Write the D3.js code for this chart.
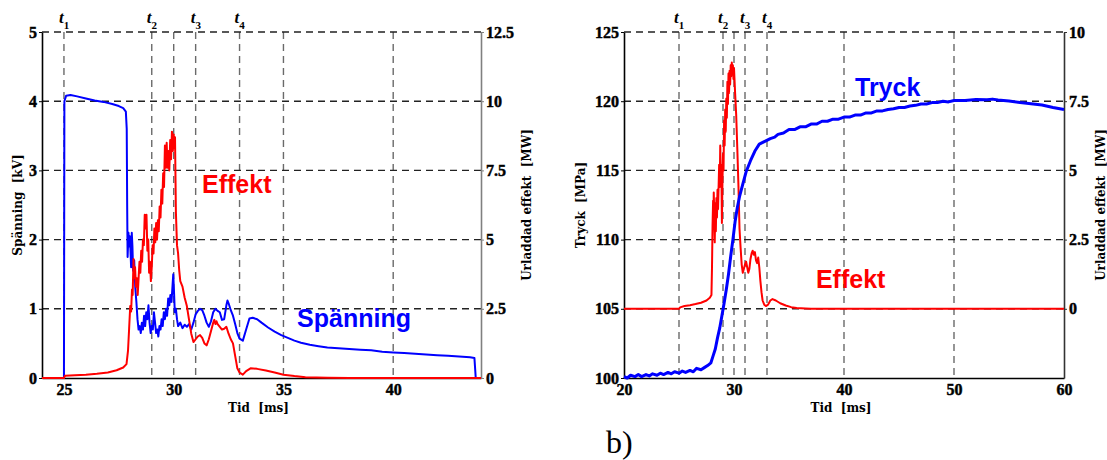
<!DOCTYPE html>
<html>
<head>
<meta charset="utf-8">
<script src="https://cdn.jsdelivr.net/npm/d3@7"></script>
<style>
body{margin:0;background:#fff;}
svg{display:block;}
.ttl{font-family:"DejaVu Serif",serif;font-weight:bold;font-size:12px;white-space:pre;fill:#000;}
.anno{font-family:"Liberation Sans",Arial,sans-serif;font-weight:bold;font-size:25px;}
.tmark{font-family:"Liberation Serif","Times New Roman",serif;font-weight:bold;font-style:italic;font-size:17px;}
</style>
</head>
<body>
<svg width="1107" height="460"></svg>
<script>
//ticks and grid
var tidTicksA = [25, 30, 35, 40];
var tidGridA = [25, 29, 30, 31, 33, 35, 40];
var kvTicks = [0, 1, 2, 3, 4, 5];
var mwTicksA = [0, 2.5, 5, 7.5, 10, 12.5];
var tidTicksB = [20, 30, 40, 50, 60];
var tidGridB = [25, 29, 30, 31, 33, 40, 50];
var mpaTicks = [100, 105, 110, 115, 120, 125];
var mwTicksB = [0, 2.5, 5, 7.5, 10];
var tHandelser = [25, 29, 31, 33];

//a) spanning [ms, kV]
var spanning = [[24,0],[25,0],[25.02,4.0],[25.1,4.08],[25.3,4.09],[25.6,4.07],[26,4.04],[26.4,4.01],[26.8,3.99],
  [27.2,3.96],[27.5,3.93],[27.7,3.9],[27.82,3.85],[27.86,3.6],[27.88,2.5],[27.9,1.75],[27.94,2.1],[27.97,1.9],
  [28,2.05],[28.03,1.85],[28.06,1.6],[28.09,2.1],[28.12,1.9],[28.15,1.55],[28.2,1.7],[28.25,1.3],[28.3,1.1],
  [28.35,0.85],[28.4,0.7],[28.45,0.75],[28.5,0.65],[28.55,0.8],[28.6,0.7],[28.65,0.9],[28.7,0.75],[28.75,0.95],
  [28.8,0.85],[28.85,1.05],[28.9,0.8],[28.95,0.65],[29,0.75],[29.05,0.7],[29.1,0.95],[29.15,0.8],[29.2,0.65],
  [29.25,0.7],[29.3,0.6],[29.35,0.75],[29.4,0.7],[29.45,0.85],[29.5,0.75],[29.55,0.95],[29.6,0.85],[29.65,1.0],
  [29.7,0.9],[29.75,1.15],[29.8,1.05],[29.85,1.2],[29.9,1.1],[29.95,1.35],[29.98,1.5],[30.02,1.2],[30.05,0.95],
  [30.1,1.0],[30.15,0.85],[30.2,0.75],[30.3,0.8],[30.4,0.72],[30.5,0.77],[30.6,0.74],[30.7,0.78],[30.8,0.7],
  [30.9,0.8],[31,0.92],[31.1,0.97],[31.2,1.0],[31.3,0.98],[31.4,0.9],[31.5,0.8],[31.6,0.74],[31.7,0.82],
  [31.8,0.95],[31.9,1.0],[32,0.97],[32.1,0.95],[32.2,0.84],[32.3,0.85],[32.4,1.05],[32.45,1.12],[32.5,1.08],
  [32.6,0.98],[32.7,0.9],[32.8,0.78],[32.9,0.65],[33,0.57],[33.15,0.54],[33.3,0.7],[33.45,0.86],[33.6,0.87],
  [33.8,0.85],[34,0.8],[34.3,0.73],[34.6,0.67],[34.9,0.62],[35.2,0.58],[35.5,0.54],[35.8,0.51],[36.2,0.48],
  [36.6,0.46],[37,0.44],[37.5,0.43],[38,0.42],[38.5,0.41],[39,0.4],[39.5,0.38],[40,0.37],[40.5,0.36],[41,0.35],
  [41.5,0.34],[42,0.33],[42.5,0.32],[43,0.31],[43.5,0.3],[43.7,0.29],[43.74,0.1],[43.76,0]];

//a) effekt [ms, MW]
var effektA = [[24,0],[25,0],[25.05,0.08],[25.5,0.1],[26,0.12],[26.5,0.15],[27,0.2],[27.4,0.28],[27.7,0.38],
  [27.85,0.5],[27.92,1.0],[27.97,1.8],[28.02,2.6],[28.06,2.4],[28.1,3.2],[28.13,3.0],[28.17,4.3],[28.2,3.6],
  [28.24,4.0],[28.28,3.3],[28.32,3.6],[28.36,3.0],[28.4,3.6],[28.44,4.2],[28.48,3.8],[28.52,4.6],[28.56,4.2],
  [28.6,5.0],[28.64,4.8],[28.68,5.9],[28.72,5.4],[28.76,5.9],[28.8,4.6],[28.84,5.0],[28.88,3.8],[28.92,4.2],
  [28.96,3.5],[29,4.0],[29.04,4.8],[29.08,4.5],[29.12,5.4],[29.16,4.9],[29.2,5.6],[29.24,5.0],[29.28,5.7],
  [29.32,5.3],[29.36,6.2],[29.4,5.8],[29.44,6.8],[29.48,6.3],[29.52,7.4],[29.56,6.9],[29.6,8.4],[29.64,7.6],
  [29.68,8.5],[29.72,7.6],[29.76,8.2],[29.8,7.5],[29.84,8.6],[29.88,7.9],[29.92,8.9],[29.96,8.2],[30,8.8],
  [30.04,8.3],[30.06,8.7],[30.1,6.0],[30.15,4.8],[30.2,4.5],[30.25,3.9],[30.3,3.5],[30.4,3.3],[30.5,2.9],
  [30.6,2.6],[30.7,2.1],[30.8,1.6],[30.9,1.3],[31,1.4],[31.1,1.5],[31.2,1.55],[31.3,1.45],[31.4,1.25],
  [31.5,1.18],[31.6,1.4],[31.7,1.7],[31.8,2.0],[31.85,2.1],[31.9,1.95],[31.95,2.05],[32,1.95],[32.1,1.85],
  [32.2,1.75],[32.3,1.78],[32.4,1.85],[32.5,1.6],[32.6,1.4],[32.7,1.25],[32.8,0.8],[32.9,0.35],[33,0.2],
  [33.15,0.12],[33.3,0.25],[33.5,0.35],[33.8,0.33],[34.2,0.27],[34.6,0.2],[35,0.12],[35.5,0.07],[36,0.03],
  [37,0.01],[38,0],[44,0]];

//b) tryck [ms, MPa]
var tryck = [[20,100.1],[20.3,100.0],[20.6,100.2],[21,100.1],[21.3,100.25],[21.6,100.1],[22,100.25],[22.3,100.15],
  [22.6,100.3],[23,100.2],[23.3,100.35],[23.6,100.25],[24,100.4],[24.3,100.3],[24.6,100.45],[25,100.35],
  [25.3,100.5],[25.6,100.4],[26,100.55],[26.3,100.45],[26.6,100.7],[27,100.6],[27.3,100.75],[27.6,100.9],
  [27.9,101.1],[28.1,101.6],[28.3,102.1],[28.5,102.9],[28.7,103.6],[28.9,104.5],[29.1,105.4],[29.3,106.4],
  [29.5,107.5],[29.7,108.8],[29.9,110.0],[30.1,111.3],[30.3,112.3],[30.5,113.1],[30.8,114.0],[31.1,114.9],
  [31.5,115.7],[31.9,116.4],[32.3,116.9],[32.8,117.1],[33.3,117.3],[33.7,117.4],[34,117.6],[34.5,117.7],
  [35,117.95],[35.5,117.95],[36,118.15],[36.5,118.15],[37,118.35],[37.5,118.35],[38,118.55],[38.5,118.55],
  [39,118.7],[39.5,118.7],[40,118.85],[40.5,118.85],[41,119.0],[41.5,119.0],[42,119.15],[42.5,119.15],
  [43,119.3],[43.5,119.3],[44,119.4],[44.5,119.45],[45,119.55],[45.5,119.55],[46,119.65],[46.5,119.7],
  [47,119.8],[47.5,119.8],[48,119.9],[48.5,119.9],[49,120.0],[49.5,119.95],[50,120.05],[51,120.05],
  [52,120.12],[53,120.1],[53.5,120.15],[54,120.08],[55,120.02],[56,119.9],[57,119.82],[58,119.72],
  [59,119.55],[60,119.4]];

//b) effekt [ms, MW]
var effektB = [[20,0],[25,0],[25.1,0.05],[25.5,0.1],[26,0.13],[26.5,0.17],[27,0.22],[27.5,0.3],[27.8,0.4],
  [27.95,0.5],[28,1.5],[28.05,3.0],[28.1,3.9],[28.13,3.2],[28.16,4.2],[28.2,3.5],[28.25,2.4],[28.3,3.8],
  [28.35,2.8],[28.4,4.0],[28.45,3.3],[28.5,4.3],[28.55,3.6],[28.6,4.4],[28.65,5.2],[28.7,4.4],[28.75,5.9],
  [28.8,4.6],[28.85,5.2],[28.9,3.1],[28.95,4.6],[29,5.6],[29.05,5.0],[29.1,6.8],[29.15,5.9],[29.2,7.2],
  [29.25,6.4],[29.3,7.6],[29.35,6.9],[29.4,8.2],[29.45,7.4],[29.5,8.5],[29.55,7.8],[29.6,8.6],[29.65,8.1],
  [29.7,8.8],[29.75,8.4],[29.8,8.9],[29.85,8.5],[29.9,8.8],[29.95,8.3],[30,8.7],[30.1,7.8],[30.2,7.0],
  [30.3,5.8],[30.4,4.5],[30.5,2.9],[30.6,2.2],[30.7,1.6],[30.8,1.3],[30.9,1.45],[31,1.6],[31.1,1.7],
  [31.2,1.5],[31.3,1.3],[31.4,1.45],[31.5,1.8],[31.6,2.0],[31.7,2.1],[31.8,1.95],[31.9,2.05],[32,1.75],
  [32.1,1.65],[32.2,1.85],[32.3,1.5],[32.4,1.0],[32.5,0.6],[32.6,0.3],[32.75,0.15],[32.9,0.1],[33.1,0.15],
  [33.3,0.3],[33.5,0.35],[33.8,0.3],[34.2,0.2],[34.7,0.12],[35.2,0.06],[35.7,0.03],[36.5,0.01],[37,0],[60,0]];

var svg = d3.select("svg");

var panel = function(o)
{
  var g = svg.append("g").attr("transform", "translate(" + o.left + "," + o.top + ")");
  //scales
  var x = d3.scaleLinear().domain(o.xDomain).range([0, o.width]);
  var y = d3.scaleLinear().domain(o.yDomain).range([o.height, 0]);
  var y2 = d3.scaleLinear().domain(o.y2Domain).range([o.height, 0]);

  //grid
  g.selectAll(".vgrid").data(o.xGrid).enter().append("line")
   .attr("x1", function(d){return x(d)}).attr("x2", function(d){return x(d)})
   .attr("y1", 0).attr("y2", o.height)
   .attr("stroke", "#6a6a6a").attr("stroke-width", 1.4).attr("stroke-dasharray", "7,5");
  g.selectAll(".hgrid").data(o.yTicks.filter(function(d){return d > o.yDomain[0]})).enter().append("line")
   .attr("x1", 0).attr("x2", o.width)
   .attr("y1", function(d){return y(d)}).attr("y2", function(d){return y(d)})
   .attr("stroke", "#222").attr("stroke-width", 1.4).attr("stroke-dasharray", "7,5");

  //axes
  var fmt = function(d){return String(d)};
  var xa = g.append("g").attr("transform", "translate(0," + o.height + ")")
   .call(d3.axisBottom(x).tickValues(o.xTicks).tickSize(0).tickSizeOuter(0).tickPadding(6).tickFormat(fmt));
  var ya = g.append("g")
   .call(d3.axisLeft(y).tickValues(o.yTicks).tickSize(3).tickSizeOuter(0).tickPadding(2).tickFormat(fmt));
  var y2a = g.append("g").attr("transform", "translate(" + o.width + ",0)")
   .call(d3.axisRight(y2).tickValues(o.y2Ticks).tickSize(3).tickSizeOuter(0).tickPadding(2).tickFormat(fmt));
  [xa, ya, y2a].forEach(function(a){
    a.attr("font-family", "'Liberation Serif','Times New Roman',serif").attr("font-size", 16)
     .selectAll("text").attr("font-weight", "bold").attr("fill", "#000")
     .attr("stroke", "#000").attr("stroke-width", 0.45);
  });
  xa.select(".domain").attr("stroke", "#000").attr("stroke-width", 1.6);
  ya.select(".domain").attr("stroke", "#000").attr("stroke-width", 1.6);
  y2a.select(".domain").attr("stroke", o.rightColor).attr("stroke-width", 1.6);
  y2a.selectAll(".tick line").attr("stroke", o.rightColor);

  //axis titles
  g.append("text").attr("class", "ttl").attr("text-anchor", "middle")
   .attr("x", o.width / 2 + o.xTitleShift).attr("y", o.height + 34).text("Tid  [ms]");
  g.append("text").attr("class", "ttl").attr("text-anchor", "middle")
   .attr("transform", "translate(" + o.yTitleX + "," + (o.height / 2) + ")rotate(-90)").text(o.yTitle);
  g.append("text").attr("class", "ttl").attr("text-anchor", "middle")
   .attr("transform", "translate(" + (o.width + o.y2TitleX) + "," + (o.height / 2) + ")rotate(-90)").text("Urladdad effekt  [MW]");

  //t markers
  var tm = g.selectAll(".tm").data(tHandelser).enter().append("text").attr("class", "tmark")
   .attr("x", function(d){return x(d) - 5}).attr("y", -9);
  tm.append("tspan").text("t");
  tm.append("tspan").attr("dy", 6).style("font-size", "11px").style("font-style", "normal")
    .text(function(d, i){return i + 1});

  //lines
  var lineL = d3.line().x(function(d){return x(d[0])}).y(function(d){return y(d[1])});
  var lineR = d3.line().x(function(d){return x(d[0])}).y(function(d){return y2(d[1])});
  o.order.forEach(function(s){
    g.append("path").datum(s.data)
     .attr("d", s.axis == "left" ? lineL : lineR)
     .attr("fill", "none").attr("stroke", s.color).attr("stroke-width", s.width)
     .attr("stroke-linejoin", "round");
  });

  //labels
  o.labels.forEach(function(l){
    g.append("text").attr("class", "anno").attr("fill", l.color)
     .attr("x", x(l.t)).attr("y", y(l.v)).text(l.text);
  });
}

panel({left:42, top:32, width:439, height:346,
  xDomain:[24, 44], yDomain:[0, 5], y2Domain:[0, 12.5],
  xTicks:tidTicksA, xGrid:tidGridA, yTicks:kvTicks, y2Ticks:mwTicksA,
  rightColor:"#808080", yTitle:"Spänning  [kV]", yTitleX:-20, y2TitleX:50, xTitleShift:-3,
  order:[{data:spanning, axis:"left", color:"#0000ff", width:2},
         {data:effektA, axis:"right", color:"#ff0000", width:2}],
  labels:[{text:"Effekt", t:31.29, v:2.67, color:"#ff0000"},
          {text:"Spänning", t:35.62, v:0.74, color:"#0000ff"}]});

panel({left:624, top:32, width:440, height:346,
  xDomain:[20, 60], yDomain:[100, 125], y2Domain:[-2.5, 10],
  xTicks:tidTicksB, xGrid:tidGridB, yTicks:mpaTicks, y2Ticks:mwTicksB,
  rightColor:"#333", yTitle:"Tryck  [MPa]", yTitleX:-39, y2TitleX:41, xTitleShift:-3,
  order:[{data:effektB, axis:"right", color:"#ff0000", width:2},
         {data:tryck, axis:"left", color:"#0000ff", width:3}],
  labels:[{text:"Tryck", t:41.0, v:120.4, color:"#0000ff"},
          {text:"Effekt", t:37.45, v:106.5, color:"#ff0000"}]});

svg.append("text").attr("x", 606).attr("y", 453)
   .style("font-family", "'Liberation Serif','Times New Roman',serif").style("font-size", "32px")
   .text("b)");
</script>
</body>
</html>
